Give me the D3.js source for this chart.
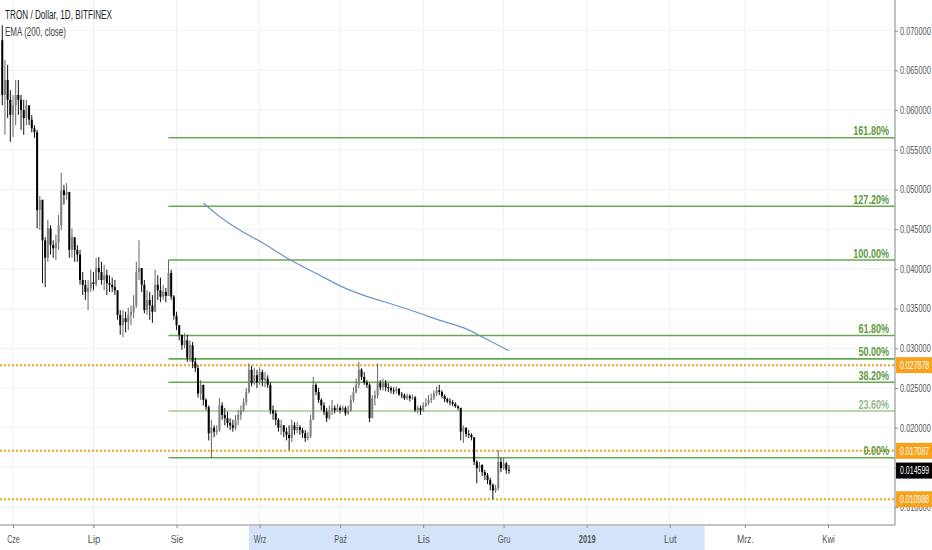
<!DOCTYPE html>
<html>
<head>
<meta charset="utf-8">
<script src="https://cdn.jsdelivr.net/npm/d3@7"></script>
<style>
  body { margin: 0; background: #fff; }
  svg { display: block; }
  text { font-family: "Liberation Sans", Arial, sans-serif; }
</style>
</head>
<body>
<div id="chart"></div>
<script>
// ---- data (TRON / Dollar, daily, Bitfinex) ----
var firstDay = new Date(2018, 4, 28);   // first candle
var lastDay = new Date(2018, 11, 3);    // last candle
var firstOpen = 0.0688;

var closes = [
  0.0619, 0.0638, 0.0613, 0.0594, 0.0606, 0.0619, 0.0613, 0.0600, 0.0590, 0.0606,
  0.0588, 0.0577, 0.0572, 0.0474, 0.0487, 0.0436, 0.0414, 0.0451, 0.0430, 0.0426,
  0.0433, 0.0455, 0.0499, 0.0493, 0.0497, 0.0424, 0.0440, 0.0424, 0.0418, 0.0386,
  0.0380, 0.0371, 0.0376, 0.0383, 0.0381, 0.0401, 0.0396, 0.0386, 0.0392, 0.0382,
  0.0380, 0.0377, 0.0373, 0.0342, 0.0329, 0.0338, 0.0333, 0.0342, 0.0346, 0.0354,
  0.0396, 0.0401, 0.0380, 0.0348, 0.0361, 0.0354, 0.0346, 0.0380, 0.0373, 0.0365,
  0.0371, 0.0366, 0.0395, 0.0365, 0.0341, 0.0329, 0.0317, 0.0304, 0.0310, 0.0288,
  0.0304, 0.0283, 0.0275, 0.0243, 0.0254, 0.0235, 0.0226, 0.0193, 0.0200, 0.0195,
  0.0197, 0.0228, 0.0216, 0.0212, 0.0206, 0.0203, 0.0200, 0.0210, 0.0216, 0.0222,
  0.0232, 0.0245, 0.0273, 0.0256, 0.0266, 0.0257, 0.0270, 0.0260, 0.0262, 0.0254,
  0.0222, 0.0218, 0.0210, 0.0200, 0.0203, 0.0195, 0.0191, 0.0187, 0.0203, 0.0197,
  0.0201, 0.0197, 0.0193, 0.0187, 0.0189, 0.0210, 0.0254, 0.0245, 0.0235, 0.0228,
  0.0220, 0.0212, 0.0222, 0.0225, 0.0222, 0.0225, 0.0222, 0.0225, 0.0218, 0.0222,
  0.0235, 0.0245, 0.0254, 0.0273, 0.0264, 0.0257, 0.0254, 0.0212, 0.0237, 0.0241,
  0.0256, 0.0251, 0.0256, 0.0251, 0.0250, 0.0247, 0.0246, 0.0249, 0.0242, 0.0241,
  0.0237, 0.0240, 0.0237, 0.0238, 0.0222, 0.0225, 0.0222, 0.0228, 0.0231, 0.0235,
  0.0237, 0.0243, 0.0247, 0.0245, 0.0240, 0.0236, 0.0233, 0.0232, 0.0230, 0.0227,
  0.0225, 0.0195, 0.0200, 0.0192, 0.0191, 0.0188, 0.0157, 0.0149, 0.0153, 0.0144,
  0.0140, 0.0134, 0.0128, 0.0121, 0.0124, 0.0157, 0.0149, 0.0155, 0.0147, 0.0146
];

var highs = [
  0.0707, 0.0663, 0.0657, 0.0625, 0.0619, 0.0638, 0.0638, 0.0619, 0.0613, 0.0613,
  0.0600, 0.0594, 0.0581, 0.0575, 0.0492, 0.0487, 0.0440, 0.0462, 0.0455, 0.0436,
  0.0443, 0.0468, 0.0521, 0.0506, 0.0508, 0.0493, 0.0451, 0.0436, 0.0430, 0.0424,
  0.0396, 0.0386, 0.0386, 0.0399, 0.0396, 0.0414, 0.0415, 0.0409, 0.0405, 0.0399,
  0.0392, 0.0389, 0.0386, 0.0373, 0.0348, 0.0348, 0.0346, 0.0351, 0.0354, 0.0367,
  0.0409, 0.0436, 0.0401, 0.0386, 0.0373, 0.0371, 0.0367, 0.0399, 0.0392, 0.0389,
  0.0380, 0.0376, 0.0411, 0.0399, 0.0367, 0.0346, 0.0329, 0.0317, 0.0319, 0.0317,
  0.0310, 0.0308, 0.0288, 0.0279, 0.0260, 0.0254, 0.0237, 0.0228, 0.0210, 0.0203,
  0.0203, 0.0237, 0.0232, 0.0225, 0.0220, 0.0212, 0.0210, 0.0216, 0.0222, 0.0228,
  0.0237, 0.0250, 0.0281, 0.0278, 0.0275, 0.0273, 0.0276, 0.0273, 0.0270, 0.0266,
  0.0257, 0.0228, 0.0222, 0.0212, 0.0210, 0.0203, 0.0200, 0.0203, 0.0210, 0.0207,
  0.0207, 0.0203, 0.0200, 0.0197, 0.0195, 0.0216, 0.0264, 0.0256, 0.0250, 0.0237,
  0.0232, 0.0225, 0.0228, 0.0235, 0.0228, 0.0230, 0.0228, 0.0228, 0.0227, 0.0228,
  0.0241, 0.0251, 0.0262, 0.0283, 0.0275, 0.0270, 0.0260, 0.0256, 0.0241, 0.0247,
  0.0281, 0.0260, 0.0262, 0.0260, 0.0256, 0.0252, 0.0251, 0.0252, 0.0250, 0.0245,
  0.0243, 0.0243, 0.0242, 0.0242, 0.0240, 0.0228, 0.0228, 0.0232, 0.0237, 0.0241,
  0.0243, 0.0247, 0.0252, 0.0254, 0.0247, 0.0242, 0.0238, 0.0237, 0.0235, 0.0232,
  0.0228, 0.0225, 0.0203, 0.0200, 0.0197, 0.0193, 0.0188, 0.0159, 0.0157, 0.0154,
  0.0147, 0.0143, 0.0137, 0.0130, 0.0128, 0.0172, 0.0162, 0.0162, 0.0157, 0.0153
];

var lows = [
  0.0606, 0.0569, 0.0590, 0.0560, 0.0566, 0.0581, 0.0594, 0.0575, 0.0569, 0.0581,
  0.0581, 0.0572, 0.0565, 0.0451, 0.0449, 0.0382, 0.0377, 0.0409, 0.0418, 0.0414,
  0.0411, 0.0424, 0.0449, 0.0481, 0.0487, 0.0414, 0.0414, 0.0409, 0.0409, 0.0380,
  0.0367, 0.0361, 0.0348, 0.0371, 0.0373, 0.0378, 0.0386, 0.0380, 0.0373, 0.0367,
  0.0371, 0.0371, 0.0367, 0.0336, 0.0317, 0.0314, 0.0320, 0.0323, 0.0329, 0.0338,
  0.0351, 0.0386, 0.0371, 0.0344, 0.0342, 0.0336, 0.0332, 0.0346, 0.0361, 0.0358,
  0.0361, 0.0358, 0.0366, 0.0361, 0.0336, 0.0323, 0.0310, 0.0298, 0.0300, 0.0283,
  0.0283, 0.0275, 0.0270, 0.0238, 0.0235, 0.0228, 0.0222, 0.0184, 0.0162, 0.0188,
  0.0191, 0.0195, 0.0210, 0.0203, 0.0200, 0.0197, 0.0195, 0.0197, 0.0203, 0.0210,
  0.0220, 0.0228, 0.0243, 0.0252, 0.0254, 0.0250, 0.0254, 0.0252, 0.0251, 0.0250,
  0.0217, 0.0210, 0.0203, 0.0195, 0.0191, 0.0188, 0.0184, 0.0172, 0.0182, 0.0191,
  0.0193, 0.0191, 0.0187, 0.0182, 0.0184, 0.0187, 0.0210, 0.0241, 0.0231, 0.0222,
  0.0216, 0.0207, 0.0210, 0.0216, 0.0218, 0.0220, 0.0218, 0.0220, 0.0215, 0.0216,
  0.0220, 0.0232, 0.0243, 0.0250, 0.0260, 0.0254, 0.0250, 0.0207, 0.0216, 0.0228,
  0.0237, 0.0247, 0.0247, 0.0246, 0.0245, 0.0243, 0.0242, 0.0243, 0.0240, 0.0237,
  0.0235, 0.0235, 0.0233, 0.0235, 0.0220, 0.0218, 0.0216, 0.0220, 0.0226, 0.0228,
  0.0231, 0.0235, 0.0240, 0.0241, 0.0237, 0.0232, 0.0231, 0.0228, 0.0227, 0.0225,
  0.0222, 0.0184, 0.0181, 0.0188, 0.0187, 0.0184, 0.0153, 0.0130, 0.0144, 0.0139,
  0.0134, 0.0129, 0.0121, 0.0110, 0.0118, 0.0121, 0.0144, 0.0147, 0.0142, 0.0142
];

// EMA (200, close), read at a few dates along the curve
var emaDates = ['2018-08-11', '2018-08-16', '2018-08-25', '2018-09-02', '2018-09-12',
                '2018-09-22', '2018-10-02', '2018-10-11', '2018-10-21', '2018-10-31',
                '2018-11-08', '2018-11-16', '2018-11-22', '2018-12-03'];
var emaValues = [0.0483, 0.0468, 0.0447, 0.0434, 0.0411, 0.0395, 0.0376, 0.0365,
                 0.0355, 0.0344, 0.0334, 0.0327, 0.0316, 0.0297];

// Fibonacci retracement / extension
var fibStart = '2018-07-29';
var fibLow = 0.01622;
var fibHigh = 0.04112;
var fibRatios = [0, 0.236, 0.382, 0.5, 0.618, 1, 1.272, 1.618];

// horizontal levels (orange dotted) and last price
var levels = [0.027878, 0.017087, 0.010988];
var lastPrice = 0.014599;

// axes
var priceTicks = [0.010, 0.015, 0.020, 0.025, 0.030, 0.035, 0.040, 0.045, 0.050, 0.055, 0.060, 0.065, 0.070];
var monthTicks = ['2018-06-01', '2018-07-01', '2018-08-01', '2018-09-01', '2018-10-01', '2018-11-01',
                  '2018-12-01', '2019-01-01', '2019-02-01', '2019-03-01', '2019-04-01'];
var monthLabels = ['Cze', 'Lip', 'Sie', 'Wrz', 'Paź', 'Lis', 'Gru', '2019', 'Lut', 'Mrz.', 'Kwi'];
var rangeMark = ['2018-08-28', '2019-02-14'];

// ---- layout ----
var W = 932, H = 550;
var plotW = 895, plotH = 525;
var parse = d3.timeParse('%Y-%m-%d');

// squeeze text horizontally, the screenshot uses a narrow face
var squeeze = function(sel, perChar) {
  sel.attr('textLength', function() { return this.textContent.length * perChar; })
     .attr('lengthAdjust', 'spacingAndGlyphs');
};

var svg = d3.select('#chart').append('svg').attr('width', W).attr('height', H);

var x = d3.scaleTime()
    .domain([parse(monthTicks[0]), parse(monthTicks[10])])
    .range([13, 828]);
var y = d3.scaleLinear().domain([0.010, 0.070]).range([507.1, 30.7]);

var dates = d3.timeDay.range(firstDay, d3.timeDay.offset(lastDay, 1));
var candles = dates.map(function(d, i) {
  return { date: d, open: i ? closes[i - 1] : firstOpen, high: highs[i], low: lows[i], close: closes[i] };
});

svg.append('defs').append('clipPath').attr('id', 'plotClip')
  .append('rect').attr('width', plotW).attr('height', plotH);

// grid
var grid = svg.append('g');
grid.selectAll('line.h').data(priceTicks).enter().append('line')
    .attr('x1', 0).attr('x2', plotW)
    .attr('y1', function(d) { return y(d); }).attr('y2', function(d) { return y(d); })
    .attr('stroke', '#eef1f5').attr('stroke-width', 1);
grid.selectAll('line.v').data(monthTicks).enter().append('line')
    .attr('y1', 0).attr('y2', plotH)
    .attr('x1', function(d) { return x(parse(d)); }).attr('x2', function(d) { return x(parse(d)); })
    .attr('stroke', '#eef1f5').attr('stroke-width', 1);

var plot = svg.append('g').attr('clip-path', 'url(#plotClip)');

// orange dotted levels
plot.selectAll('line.level').data(levels).enter().append('line')
    .attr('x1', 0).attr('x2', plotW)
    .attr('y1', function(d) { return y(d); }).attr('y2', function(d) { return y(d); })
    .attr('stroke', '#f7a21b').attr('stroke-width', 2).attr('stroke-dasharray', '2,2');

// fib levels
var fibData = fibRatios.map(function(r) {
  return { ratio: r, price: fibLow + r * (fibHigh - fibLow) };
});
var fibX = x(parse(fibStart));
plot.selectAll('line.fib').data(fibData).enter().append('line')
    .attr('x1', fibX).attr('x2', plotW)
    .attr('y1', function(d) { return y(d.price); }).attr('y2', function(d) { return y(d.price); })
    .attr('stroke', function(d) { return d.ratio === 0.236 ? '#a3c88f' : '#6aa84f'; })
    .attr('stroke-width', 1.6);
var fibText = plot.selectAll('text.fib').data(fibData).enter().append('text')
    .attr('x', 889).attr('y', function(d) { return y(d.price) - 2.5; })
    .attr('text-anchor', 'end').attr('font-size', 12).attr('font-weight', 'bold')
    .attr('fill', function(d) { return d.ratio === 0.236 ? '#97b889' : '#5e9a3e'; })
    .text(function(d) { return d3.format('.2f')(d.ratio * 100) + '%'; });
squeeze(fibText, 5.1);

// candles
var bw = 2;
var cg = plot.append('g');
cg.selectAll('line.wick').data(candles).enter().append('line')
    .attr('x1', function(d) { return x(d.date); }).attr('x2', function(d) { return x(d.date); })
    .attr('y1', function(d) { return y(d.high); }).attr('y2', function(d) { return y(d.low); })
    .attr('stroke', function(d) { return d.close >= d.open ? '#666' : '#111'; })
    .attr('stroke-width', 1);
cg.selectAll('rect.body').data(candles).enter().append('rect')
    .attr('x', function(d) { return x(d.date) - bw / 2; })
    .attr('width', bw)
    .attr('y', function(d) { return y(Math.max(d.open, d.close)); })
    .attr('height', function(d) { return Math.max(1, Math.abs(y(d.open) - y(d.close))); })
    .attr('fill', function(d) { return d.close >= d.open ? '#808080' : '#000'; });

// EMA
var ema = emaDates.map(function(d, i) { return { date: parse(d), value: emaValues[i] }; });
plot.append('path').datum(ema)
    .attr('fill', 'none').attr('stroke', '#6f93c4').attr('stroke-width', 1.2)
    .attr('d', d3.line().curve(d3.curveBasis)
      .x(function(d) { return x(d.date); }).y(function(d) { return y(d.value); }));

// bottom axis
svg.append('rect')
    .attr('x', x(parse(rangeMark[0]))).attr('y', plotH + 1)
    .attr('width', x(parse(rangeMark[1])) - x(parse(rangeMark[0]))).attr('height', H - plotH)
    .attr('fill', '#d5e3f8');
var xAxis = svg.append('g').attr('transform', 'translate(0,' + plotH + ')')
    .call(d3.axisBottom(x).tickValues(monthTicks.map(parse)).tickSize(3)
      .tickFormat(function(d, i) { return monthLabels[i]; }));
xAxis.select('.domain').attr('d', 'M0,0H' + plotW).attr('stroke', '#888').attr('stroke-width', 1.2);
xAxis.selectAll('.tick line').attr('stroke', '#888');
var xText = xAxis.selectAll('.tick text').attr('font-size', 10.5).attr('fill', '#555').attr('dy', '1.15em')
    .style('font-family', '"Liberation Sans", Arial, sans-serif')
    .attr('font-weight', function(d, i) { return monthLabels[i] === '2019' ? 'bold' : null; });
squeeze(xText, 4.2);

// right axis
var yAxis = svg.append('g').attr('transform', 'translate(' + plotW + ',0)')
    .call(d3.axisRight(y).tickValues(priceTicks).tickSize(3).tickFormat(d3.format('.6f')));
yAxis.select('.domain').attr('d', 'M0,0V' + plotH).attr('stroke', '#999').attr('stroke-width', 1.2);
yAxis.selectAll('.tick line').attr('stroke', '#888');
var yText = yAxis.selectAll('.tick text').attr('font-size', 10.5).attr('fill', '#555').attr('x', 5)
    .style('font-family', '"Liberation Sans", Arial, sans-serif');
squeeze(yText, 3.85);

// price labels on the axis
var tags = levels.map(function(v) { return { value: v, bg: '#f7a21b' }; })
    .concat([{ value: lastPrice, bg: '#000' }]);
var tag = svg.selectAll('g.tag').data(tags).enter().append('g')
    .attr('transform', function(d) { return 'translate(' + plotW + ',' + y(d.value) + ')'; });
tag.append('rect').attr('x', 1).attr('y', -8).attr('width', W - plotW).attr('height', 16)
    .attr('fill', function(d) { return d.bg; });
var tagText = tag.append('text').attr('x', 5).attr('dy', '0.35em').attr('font-size', 10.5).attr('fill', '#fff')
    .text(function(d) { return d3.format('.6f')(d.value); });
squeeze(tagText, 3.65);

// legend
svg.append('text').attr('x', 5).attr('y', 19).attr('font-size', 12.5).attr('fill', '#222')
    .attr('textLength', 107).attr('lengthAdjust', 'spacingAndGlyphs')
    .text('TRON / Dollar, 1D, BITFINEX');
svg.append('text').attr('x', 5).attr('y', 36).attr('font-size', 12.5).attr('fill', '#444')
    .attr('textLength', 61).attr('lengthAdjust', 'spacingAndGlyphs')
    .text('EMA (200, close)');
</script>
</body>
</html>
